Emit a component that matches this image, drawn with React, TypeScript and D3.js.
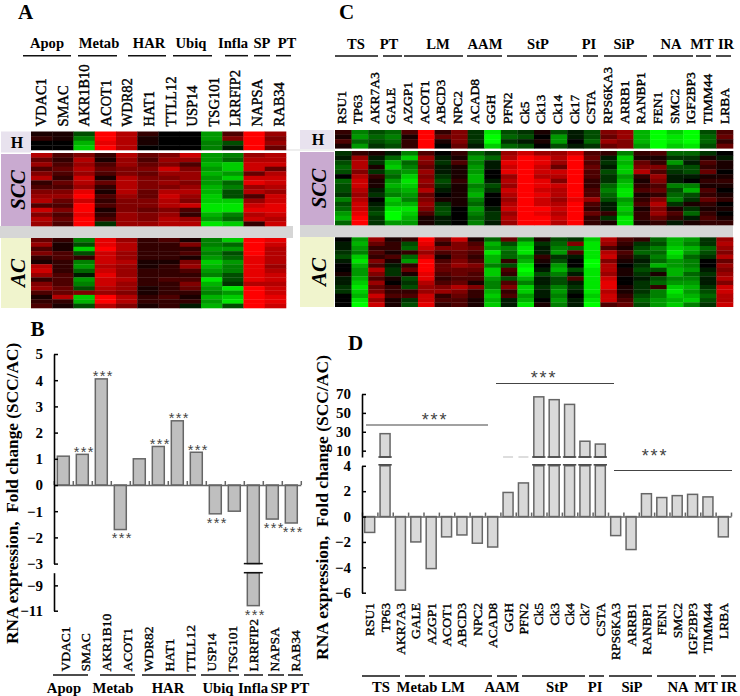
import { useRef, useEffect } from "react";
import * as d3 from "d3";

// panel A / B
const genesA = ["VDAC1", "SMAC", "AKR1B10", "ACOT1", "WDR82", "HAT1", "TTLL12", "USP14", "TSG101", "LRRFIP2", "NAPSA", "RAB34"];
const heatAH = [
  [1, 2, 0, 0], [1, 1, 0, 0], [-3, -5, -7, -8], [10, 10, 9, 10], [7, 7, 7, 7], [2, 1, 1, 0],
  [0, 0, 0, 0], [0, 0, 0, 0], [-6, -6, -5, -5], [3, 5, -3, -1], [10, 10, 10, 10], [6, 5, 6, 4],
];
const heatASCC = [
  [7, 4, 6, 3, 5, 7, 2, 3, 5, 6, 7, 3, 8, 5, 7, 6],
  [3, 2, 3, 4, 3, 2, 4, 3, 5, 6, 4, 3, 5, 3, 4, 3],
  [5, 7, 6, 7, 6, 8, 7, 6, 9, 10, 8, 10, 10, 9, 10, 10],
  [2, 1, 3, 4, 3, 1, 4, 2, 1, 3, 2, 3, 1, 2, 3, -2],
  [7, 6, 6, 5, 5, 7, 7, 7, 7, 6, 5, 5, 5, 6, 6, 6],
  [4, 3, 4, 5, 4, 5, 5, 5, 4, 4, 5, 5, 4, 5, 5, 6],
  [5, 6, 5, 8, 6, 5, 6, 5, 7, 8, 7, 7, 5, 6, 7, 7],
  [8, 6, 3, 5, 6, 6, 5, 6, 7, 6, 5, 8, 3, 2, 6, 7],
  [-6, -6, -7, -6, -7, -6, -6, -7, -7, -8, -8, -9, -9, -7, -6, -9],
  [-5, -4, -8, -8, -6, -8, -4, -5, -3, -3, -8, -9, -9, -5, -4, -8],
  [6, 7, 8, 8, 4, 8, 9, 6, 7, 3, 6, 8, 9, 7, 8, 2],
  [7, 7, 8, 4, 7, 8, 8, 7, 6, 8, 8, 9, 9, 8, 7, 8],
];
const heatAAC = [
  [4, 6, 3, 5, 2, 1, 7, 8, 6, 2, 5, 6, 3, 1, 2, 3],
  [2, 1, 1, 3, 3, 2, 2, 2, 3, 3, 3, 4, 4, 7, 2, 1],
  [-5, -3, -8, -3, 2, -5, -6, -4, -1, -6, -5, -3, 5, -8, -7, -3],
  [9, 9, 10, 8, 8, 8, 7, 8, 9, 8, 8, 7, 6, 10, 10, 7],
  [6, 7, 7, 6, 6, 7, 6, 6, 6, 7, 6, 6, 5, 7, 7, 5],
  [2, 2, 2, 2, 2, 1, 1, 2, 2, 2, 2, 1, 1, 2, 2, 1],
  [3, 2, 2, 2, 2, 1, 2, 2, 2, 3, 2, 2, 2, 3, 2, 2],
  [1, 5, 2, 3, 1, 5, 6, 3, 2, 3, 5, 4, 2, 1, 2, -1],
  [-5, -5, -6, -5, -6, -8, -7, -6, -5, -9, -7, -6, -5, -7, -6, -7],
  [-8, -4, -6, -3, -4, -6, -5, -5, -3, -3, -2, -9, -6, -8, -9, -3],
  [10, 10, 10, 10, 9, 9, 9, 9, 9, 9, 7, 10, 10, 10, 10, 10],
  [9, 8, 7, 7, 7, 7, 6, 7, 8, 8, 7, 8, 8, 9, 9, 8],
];
const foldB = [1.1, 1.17, 4.05, -1.7, 1.0, 1.47, 2.45, 1.25, -1.1, -1.0, -10.6, -1.3, -1.45];
const starsB = [1, 2, 3, 5, 6, 7, 8, 10, 11, 12];
const ticksB = [5, 4, 3, 2, 1, 0, -1, -2, -3];
const ticksBLow = [-9, -11];

// panel C / D
const genesC = ["RSU1", "TP63", "AKR7A3", "GALE", "AZGP1", "ACOT1", "ABCD3", "NPC2", "ACAD8", "GGH", "PFN2", "Ck5", "Ck13", "Ck14", "Ck17", "CSTA", "RPS6KA3", "ARRB1", "RANBP1", "FEN1", "SMC2", "IGF2BP3", "TIMM44", "LRBA"];
const genesD = ["RSU1", "TP63", "AKR7A3", "GALE", "AZGP1", "ACOT1", "ABCD3", "NPC2", "ACAD8", "GGH", "PFN2", "Ck5", "Ck3", "Ck4", "Ck7", "CSTA", "RPS6KA3", "ARRB1", "RANBP1", "FEN1", "SMC2", "IGF2BP3", "TIMM44", "LRBA"];
const heatCH = [
  [2, 1, 3, 1], [-5, -6, -4, -6], [-3, -4, -3, -2], [-4, -5, -4, -3], [3, 1, 2, 2], [10, 10, 10, 10],
  [2, 4, 1, 0], [5, 5, 5, 4], [-2, -2, -2, -1], [-9, -10, -10, -8], [-3, -4, -2, -4], [-2, -3, -1, -3],
  [1, 0, 1, 0], [-3, -6, -6, -3], [-1, -1, 0, -1], [-3, -3, -4, -2], [5, 4, 6, 4], [6, 6, 5, 5],
  [-7, -7, -7, -6], [-10, -10, -10, -10], [-8, -9, -9, -8], [-10, -10, -10, -9], [-3, -4, -4, -3], [3, 4, 2, 4],
];
const heatCSCC = [
  [-2, -1, -3, -4, -3, 0, -4, -3, -3, -2, -5, -3, -4, -6, -7, -4],
  [2, 6, 7, 7, 5, 7, 8, 8, 7, 6, 7, 8, 8, 9, 10, 10],
  [1, -1, -2, 1, -2, 2, 1, 1, -1, -2, 0, -1, -2, -3, -2, -2],
  [-1, -4, -7, -8, -5, -4, -6, -7, -6, -5, -8, -7, -9, -10, -10, -6],
  [-5, -8, -4, -5, -6, -8, -9, -8, -7, -6, -5, -7, -9, -8, -7, -6],
  [3, 6, 5, 4, 6, 5, 6, 5, 7, 4, 5, 6, 5, 3, 1, 1],
  [0, -1, -2, -1, -1, -2, -3, -2, -1, 0, 1, -2, -3, -3, -1, -1],
  [2, 1, 3, 1, 1, 1, 2, 1, 1, 1, 1, 1, 0, 0, 0, 0],
  [-4, -6, -5, -6, -6, -7, -7, -5, -6, -7, -5, -4, -6, -5, -4, -5],
  [-2, -4, -1, -1, 0, 0, -1, -3, -2, 0, 0, 0, -1, -2, -2, -1],
  [6, 7, 9, 8, 9, 6, 7, 6, 8, 7, 6, 7, 8, 6, 7, 6],
  [8, 10, 10, 10, 10, 10, 10, 10, 10, 10, 10, 10, 10, 10, 10, 10],
  [6, 9, 9, 8, 8, 7, 9, 9, 8, 9, 8, 8, 10, 9, 10, 10],
  [6, 7, 6, 4, 8, 7, 5, 8, 7, 7, 6, 7, 8, 7, 8, 7],
  [8, 10, 10, 10, 10, 10, 10, 10, 10, 10, 9, 10, 10, 10, 10, 10],
  [3, 4, 3, 4, 3, 3, 2, 2, 3, 3, 6, 3, 2, 4, 2, 2],
  [2, -1, -2, -1, -3, -2, -2, -4, -5, -4, -3, -1, -1, 2, -2, 1],
  [-5, -8, -7, -8, -8, -6, -7, -8, -9, -9, -6, -7, -8, -7, -9, -9],
  [2, 1, 4, 5, 7, 2, 1, 2, 3, 1, 2, 3, 1, 2, 2, 1],
  [3, 1, 2, 5, 3, 6, 5, 3, 4, 2, 5, 7, 5, 6, 4, 2],
  [-4, -2, -6, -3, -2, -1, -1, -5, -3, -4, -5, -2, 1, 3, 2, -1],
  [-4, -2, -1, -3, -3, -1, 0, -5, -7, -3, -2, 1, -2, -4, -1, 1],
  [-2, 1, 3, 2, 4, 1, 2, 1, 3, 2, 4, 2, 1, 2, 3, 2],
  [0, -1, 1, 1, 0, 1, 2, 1, 0, 1, 2, 0, 1, 0, 1, 2],
];
const heatCAC = [
  [0, -1, -1, -2, -3, -1, 0, 0, 1, -1, -1, -2, -2, 0, 0, 0],
  [-6, -7, -6, -5, -8, -9, -7, -6, -6, -7, -8, -9, -8, -7, -9, -10],
  [6, 4, 2, 3, 2, 5, 3, 7, 5, 3, 6, 4, 5, 8, 6, 8],
  [1, 2, 2, 1, 3, 1, -1, -2, -2, 1, 0, 2, 2, 3, 1, 1],
  [2, -3, -4, 2, -4, -6, 2, 4, 1, -3, -2, -3, 2, 3, -2, -3],
  [10, 9, 8, 6, 8, 10, 10, 10, 9, 9, 7, 6, 6, 8, 8, 9],
  [4, 2, 5, 3, 1, 3, 4, 4, 3, 2, 3, 5, 6, 2, 3, 2],
  [8, 5, 5, 4, 4, 5, 6, 4, 4, 3, 4, 7, 5, 4, 3, 3],
  [1, 3, 4, 3, 2, 3, 5, 4, 3, 3, 1, 5, 2, 2, 1, 1],
  [-4, -7, -6, -9, -7, -7, -5, -8, -8, -6, -5, -5, -7, -8, -7, -8],
  [4, -3, -5, -4, -4, 2, -3, 3, 2, -3, 3, 5, 2, 3, -1, -1],
  [-5, -8, -9, -9, -6, -7, -9, -10, -9, -7, -5, -8, -8, -6, -7, -9],
  [1, -2, -1, -1, 2, 1, 0, -1, -3, -1, -1, -2, -1, -1, 0, 1],
  [-3, -4, -5, -6, -2, -3, -6, -7, -5, -3, -3, -5, -6, -5, -6, -5],
  [-2, 5, -4, 3, -1, 0, 0, -3, -1, 3, -1, -2, -1, 0, -1, -1],
  [-8, -9, -9, -9, -9, -10, -10, -9, -9, -9, -9, -9, -9, -8, -9, -10],
  [7, 6, 3, 7, 8, 5, 7, 7, 6, 8, 9, 9, 7, 8, 8, 3],
  [3, 2, 1, 3, 2, 1, 0, 1, 1, 0, 0, 1, 1, 2, 3, 4],
  [2, -2, -3, -4, -2, -1, -2, -3, -2, -1, -2, -2, -2, -3, -4, -3],
  [-4, -3, -5, -4, -5, -4, -7, -3, 1, -3, -4, 2, -5, -5, -6, -6],
  [-7, -7, -8, -9, -8, -6, -6, -7, -7, -5, -6, -8, -9, -8, -7, -8],
  [-6, -5, -7, -6, -4, -5, -5, -6, -4, -5, -6, -7, -6, -7, -8, -5],
  [-2, -2, -4, -3, -2, 0, 0, -1, -2, -1, -1, -2, -3, -4, -3, -2],
  [6, 7, 6, 5, 7, 4, 6, 5, 6, 7, 5, 8, 8, 7, 7, 8],
];
const foldD = [-1.25, 28, -5.8, -2, -4.1, -1.6, -1.45, -2.1, -2.4, 1.9, 2.65, 67, 64, 59, 20, 17, -1.5, -2.6, 1.8, 1.5, 1.65, 1.75, 1.55, -1.6];
const ticksD = [4, 2, 0, -2, -4, -6];
const ticksDHigh = [70, 50, 30, 10];

const yTitle = "RNA expression,  Fold change (SCC/AC)";
const SERIF = "'Liberation Serif', serif";

// header / footer group labels: name, label centre, line from, line to
type Group = [string, number, number, number];
const headA: Group[] = [["Apop", 47, 23, 71], ["Metab", 99, 78, 117], ["HAR", 149, 128, 166], ["Ubiq", 191, 173, 212], ["Infla", 233, 225, 248], ["SP", 262, 254, 270], ["PT", 287, 276, 291]];
const footB: Group[] = [["Apop", 64, 53, 88], ["Metab", 113, 100, 135], ["HAR", 168, 142, 196], ["Ubiq", 218, 201, 239], ["Infla", 253, 244, 263], ["SP", 279, 268, 284], ["PT", 300, 288, 303]];
const headC: Group[] = [["TS", 356, 335, 378], ["PT", 389, 383, 402], ["LM", 438, 404, 463], ["AAM", 485, 467, 502], ["StP", 538, 507, 577], ["PI", 589, 583, 598], ["SiP", 624, 604, 647], ["NA", 671, 653, 693], ["MT", 702, 696, 711], ["IR", 726, 716, 731]];
const footD: Group[] = [["TS", 381, 362, 400], ["Metab", 417, 405, 425], ["LM", 453, 429, 492], ["AAM", 502, 497, 517], ["StP", 557, 522, 585], ["PI", 595, 589, 604], ["SiP", 632, 609, 652], ["NA", 678, 657, 696], ["MT", 706, 699, 715], ["IR", 729, 721, 736]];
const sigLines: [number, number, number, number, number][] = [
  [366, 488, 425, 435, 416],
  [496, 614, 383.5, 544, 374],
  [614, 732, 470.5, 655, 451.5],
];

type G = d3.Selection<SVGGElement, unknown, null, undefined>;

function vText(g: G, s: string, x: number, y: number, size: number) {
  return g.append("text").attr("transform", `translate(${x},${y}) rotate(-90)`)
    .attr("font-family", SERIF).attr("font-size", size).attr("fill", "#000").attr("xml:space", "preserve")
    .style("white-space", "pre").text(s);
}

function heatPanel(g: G, genes: string[], x0: number, x1: number, ys: number[][], cols: number[][][], labelX: [number, number], labelY: number, size: number) {
  const color = d3.scaleLinear<string>().domain([-10, 0, 10]).range(["#00ff00", "#000000", "#ff0000"]);
  const x = d3.scaleBand<number>().domain(d3.range(genes.length)).range([x0, x1]);
  cols.forEach((matrix, k) => {
    const y = d3.scaleBand<number>().domain(d3.range(matrix[0].length)).range(ys[k] as [number, number]);
    matrix.forEach((col, i) => {
      g.append("g").selectAll("rect").data(col).join("rect")
        .attr("x", x(i)!).attr("width", x.bandwidth() + 0.3)
        .attr("y", (_, r) => y(r)!).attr("height", y.bandwidth() + 0.3)
        .attr("fill", (d) => color(d));
    });
  });
  const lx = d3.scalePoint<string>().domain(genes).range(labelX);
  genes.forEach((d) => {
    vText(g, d, lx(d)! + 4.5, labelY, size).attr("stroke", "#000").attr("stroke-width", 0.4);
  });
}

function groups(g: G, list: Group[], textY: number, lineY: number, size: number) {
  list.forEach(([name, cx, a, b]) => {
    g.append("line").attr("x1", a).attr("x2", b).attr("y1", lineY).attr("y2", lineY).attr("stroke", "#111").attr("stroke-width", 1.5);
    g.append("text").attr("x", cx).attr("y", textY).attr("text-anchor", "middle").attr("font-family", SERIF)
      .attr("font-weight", "bold").attr("font-size", size).text(name);
  });
}

function sideBoxes(g: G, x: number, w: number, boxes: [number, number][]) {
  const fills = ["#e8e2ee", "#c9aad0", "#f0f4cd"];
  boxes.forEach(([a, b], i) => {
    g.append("rect").attr("x", x).attr("y", a).attr("width", w).attr("height", b - a).attr("fill", fills[i]);
  });
  const cx = x + w / 2 + 1;
  g.append("text").attr("x", cx).attr("y", (boxes[0][0] + boxes[0][1]) / 2 + 5.5).attr("text-anchor", "middle")
    .attr("font-family", SERIF).attr("font-weight", "bold").attr("font-size", 16).text("H");
  [["SCC", 1], ["AC", 2]].forEach(([s, i]) => {
    const b = boxes[i as number];
    g.append("text").attr("transform", `translate(${cx + 7.5},${(b[0] + b[1]) / 2}) rotate(-90)`).attr("text-anchor", "middle")
      .attr("font-family", SERIF).attr("font-weight", "bold").attr("font-style", "italic").attr("font-size", 21).text(s as string);
  });
}

function styleAxis(a: G, size: number) {
  a.select(".domain").attr("stroke", "#000").attr("stroke-width", 1.6);
  a.selectAll(".tick line").attr("stroke", "#000").attr("stroke-width", 1.5);
  a.selectAll(".tick text").attr("font-family", SERIF).attr("font-weight", "bold").attr("font-size", size).attr("fill", "#000");
}

function stars(g: G, x: number, y: number, size: number) {
  g.append("text").attr("x", x).attr("y", y + size * 0.58).attr("text-anchor", "middle").attr("font-family", "'Liberation Sans', sans-serif")
    .attr("font-size", size).attr("letter-spacing", size * 0.1).attr("fill", "#444").text("***");
}

export default function App() {
  const svgRef = useRef<SVGSVGElement>(null);

  useEffect(() => {
    if (!svgRef.current) return;
    const svg = d3.select(svgRef.current);
    svg.selectAll("*").remove();
    const g = svg.append("g") as unknown as G;

    [["A", 18, 19], ["B", 30.5, 336], ["C", 339, 19], ["D", 348, 350]].forEach(([s, x, y]) => {
      g.append("text").attr("x", x).attr("y", y).attr("font-family", SERIF).attr("font-weight", "bold").attr("font-size", 21).text(s as string);
    });

    // grey gaps and the thin line running out of the H rows
    g.append("rect").attr("x", 0).attr("y", 226).attr("width", 293).attr("height", 12).attr("fill", "#d6d6d6");
    g.append("rect").attr("x", 300).attr("y", 225).attr("width", 433).attr("height", 12).attr("fill", "#d6d6d6");
    g.append("line").attr("x1", 286).attr("x2", 335).attr("y1", 150).attr("y2", 150).attr("stroke", "#ddd").attr("stroke-width", 1);

    // Panel A
    sideBoxes(g, 1, 30, [[131.5, 152.5], [154, 226], [238, 308]]);
    heatPanel(g, genesA, 31, 286, [[131.5, 150], [153, 226], [238, 308]], [heatAH, heatASCC, heatAAC], [41.7, 279], 126.5, 14.5);
    groups(g, headA, 48, 55.7, 14.6);

    // Panel C
    sideBoxes(g, 300, 34, [[130, 149], [152, 225], [237, 307]]);
    heatPanel(g, genesC, 335, 733, [[130, 148.3], [151, 225], [237.3, 306.7]], [heatCH, heatCSCC, heatCAC], [341, 724], 124, 13.5);
    groups(g, headC, 49, 56, 14.6);

    // Panel B
    const xB = d3.scaleBand<number>().domain(d3.range(foldB.length)).range([53.8, 300.8]).paddingInner(0.37).paddingOuter(0.185);
    const yB = d3.scaleLinear().domain([-3, 5]).range([563.6, 354]);
    const yBLow = d3.scaleLinear().domain([-11, -8]).range([610.7, 572.7]);
    foldB.forEach((v, i) => {
      const bar = (a: number, b: number) =>
        g.append("rect").attr("x", xB(i)!).attr("width", xB.bandwidth()).attr("y", Math.min(a, b)).attr("height", Math.abs(a - b))
          .attr("fill", "#bfbfbf").attr("stroke", "#666").attr("stroke-width", 1.5);
      if (v < -3) {
        bar(yB(0), yB(-3));
        bar(yBLow(-8), yBLow(v));
        [yB(-3), yBLow(-8)].forEach((y) => {
          g.append("line").attr("x1", xB(i)! - 3.5).attr("x2", xB(i)! + xB.bandwidth() + 3.5).attr("y1", y).attr("y2", y).attr("stroke", "#111").attr("stroke-width", 1.5);
        });
      } else bar(yB(0), yB(v));
    });
    const zeroB = g.append("g").attr("transform", `translate(0,${yB(0)})`) as unknown as G;
    zeroB.call(d3.axisBottom(d3.scaleLinear().domain([0, foldB.length]).range([53.8, 300.8])).ticks(foldB.length).tickSize(-4).tickSizeOuter(0).tickFormat(() => ""));
    zeroB.select(".domain").attr("stroke", "#666").attr("stroke-width", 1.5);
    zeroB.selectAll(".tick line").attr("stroke", "#666").attr("stroke-width", 1.5);
    starsB.forEach((i) => {
      const v = foldB[i];
      const y = v < -3 ? yBLow(v) : yB(v);
      stars(g, xB(i)! + xB.bandwidth() / 2 + 2, v > 0 ? y - 6 : y + 5.5, 14.5);
    });
    const axB = g.append("g").attr("transform", "translate(54,0)") as unknown as G;
    axB.call(d3.axisLeft(yB).tickValues(ticksB).tickSize(-4).tickSizeOuter(0).tickPadding(11).tickFormat(d3.format("d") as any));
    styleAxis(axB, 15);
    const axBLow = g.append("g").attr("transform", "translate(54,0)") as unknown as G;
    axBLow.call(d3.axisLeft(yBLow).tickValues(ticksBLow).tickSize(-4).tickSizeOuter(0).tickPadding(11).tickFormat(d3.format("d") as any));
    styleAxis(axBLow, 15);
    const lxB = d3.scalePoint<string>().domain(genesA).range([65, 295]);
    genesA.forEach((d) => vText(g, d, lxB(d)! + 4.5, 671.5, 13.5).attr("stroke", "#000").attr("stroke-width", 0.35));
    groups(g, footB, 693, 675, 14.7);
    vText(g, yTitle, 18, 644, 17.3).attr("font-weight", "bold");

    // Panel D
    const xD = d3.scaleBand<string>().domain(genesD).range([362, 731]).paddingInner(0.35).paddingOuter(0.175);
    const yD = d3.scaleLinear().domain([-6, 4]).range([592.7, 465.8]);
    const yDHigh = d3.scaleLinear().domain([3.3, 70]).range([457, 394]);
    foldD.forEach((v, i) => {
      const x = xD(genesD[i])!;
      const bar = (a: number, b: number) =>
        g.append("rect").attr("x", x).attr("width", xD.bandwidth()).attr("y", Math.min(a, b)).attr("height", Math.abs(a - b))
          .attr("fill", "#d9d9d9").attr("stroke", "#666").attr("stroke-width", 1.5);
      if (v > 4) {
        bar(yD(0), yD(4));
        bar(yDHigh(3.3), yDHigh(v));
        [yDHigh(3.3), yD(4) - 1].forEach((y) => {
          g.append("line").attr("x1", x - 1.7).attr("x2", x + xD.bandwidth() + 1.7).attr("y1", y).attr("y2", y).attr("stroke", "#444").attr("stroke-width", 1.5);
        });
      } else {
        bar(yD(0), yD(v));
        if (v > 1.8) {
          g.append("line").attr("x1", x).attr("x2", x + xD.bandwidth()).attr("y1", yDHigh(3.3)).attr("y2", yDHigh(3.3)).attr("stroke", "#bbb").attr("stroke-width", 1);
        }
      }
    });
    const zeroD = g.append("g").attr("transform", `translate(0,${yD(0)})`) as unknown as G;
    zeroD.call(d3.axisBottom(d3.scaleLinear().domain([0, foldD.length]).range([362, 731])).ticks(foldD.length).tickSize(-4).tickSizeOuter(0).tickFormat(() => ""));
    zeroD.select(".domain").attr("stroke", "#666").attr("stroke-width", 1.5);
    zeroD.selectAll(".tick line").attr("stroke", "#666").attr("stroke-width", 1.5);
    const axD = g.append("g").attr("transform", "translate(362,0)") as unknown as G;
    axD.call(d3.axisLeft(yD).tickValues(ticksD).tickSize(-4).tickSizeOuter(0).tickPadding(11).tickFormat(d3.format("d") as any));
    styleAxis(axD, 15);
    const axDHigh = g.append("g").attr("transform", "translate(362,0)") as unknown as G;
    axDHigh.call(d3.axisLeft(yDHigh).tickValues(ticksDHigh).tickSize(-4).tickSizeOuter(0).tickPadding(11).tickFormat(d3.format("d") as any));
    styleAxis(axDHigh, 15);
    genesD.forEach((d) => {
      vText(g, d, xD(d)! + xD.bandwidth() / 2 + 4.5, 603, 13.5).attr("text-anchor", "end").attr("stroke", "#000").attr("stroke-width", 0.35);
    });
    sigLines.forEach(([a, b, y, sx, sy]) => {
      g.append("line").attr("x1", a).attr("x2", b).attr("y1", y).attr("y2", y).attr("stroke", "#444").attr("stroke-width", 1.2);
      stars(g, sx, sy, 18);
    });
    groups(g, footD, 692, 676, 14.7);
    vText(g, yTitle, 328, 660, 17.5).attr("font-weight", "bold");
  }, []);

  return (
    <svg
      ref={svgRef}
      width={740}
      height={696}
      viewBox="0 0 740 696"
      style={{ position: "absolute", left: 0, top: 0, background: "#fff" }}
    />
  );
}
